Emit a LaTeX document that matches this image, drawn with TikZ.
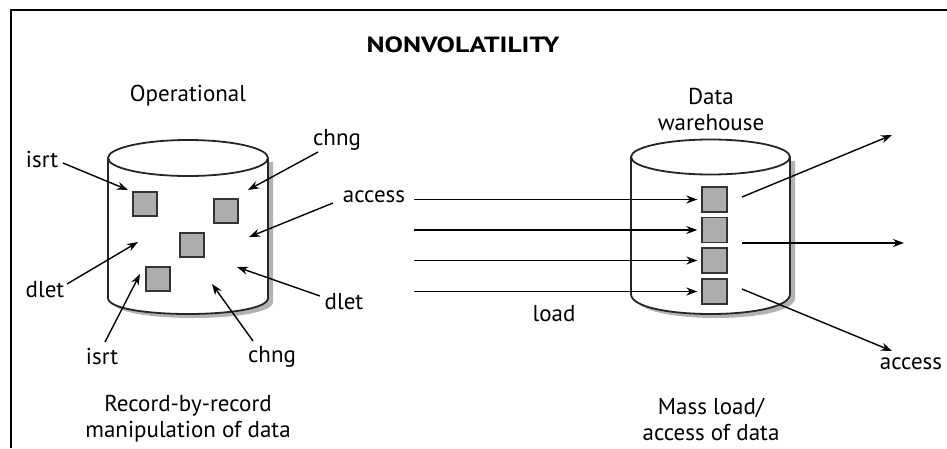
\documentclass[tikz,border=0pt]{standalone}
\usepackage{fontspec}
\setmainfont{PT Sans}
\newfontfamily\titlefont[FakeStretch=1.25]{PT Sans}
\usetikzlibrary{arrows.meta}
\tikzset{
  lbl/.style={inner sep=0pt, font=\fontsize{23}{26}\selectfont},
  rec/.style={draw=black!80, fill=black!32, line width=1.4pt, minimum size=24pt, inner sep=0pt},
  arr/.style={line width=1.4pt, -{Stealth[length=11pt,width=8pt]}},
  cyl/.style={line width=1.8pt, draw=black!85},
}
\newcommand{\cylbody}[5]{% cx, rx, top, bot, bulge
  (#1-#2,#3) -- (#1-#2,#4) .. controls (#1-#2,#4+#5*1.333) and (#1+#2,#4+#5*1.333) .. (#1+#2,#4) -- (#1+#2,#3)}
\begin{document}
\begin{tikzpicture}[x=1pt,y=-1pt]
\useasboundingbox (0,0) rectangle (947,448);
\fill[white] (0,0) rectangle (947,448);
\draw[line width=2.2pt] (11,448) -- (11,10) -- (947,10);

\node[inner sep=0pt, font=\titlefont\bfseries\fontsize{22}{26}\selectfont] (title) at (463,45) {NONVOLATILITY};

% left cylinder
\fill[black!30] \cylbody{193}{80}{162}{302}{16} -- cycle;
\filldraw[cyl, fill=white] \cylbody{188}{80}{158}{298}{16};
\draw[cyl] (188,158) ellipse [x radius=80, y radius=18];
\node[lbl] (op) at (188,96) {Operational};

\node[rec] (s1) at (145,204) {};
\node[rec] (s2) at (226,211) {};
\node[rec] (s3) at (192,245) {};
\node[rec] (s4) at (158,279) {};

\node[lbl] (isrtA) at (42,159) {isrt};
\node[lbl] (chngA) at (337,140) {chng};
\node[lbl] (acc) at (374,197) {access};
\node[lbl] (dletA) at (45,290) {dlet};
\node[lbl] (dletB) at (344,302) {dlet};
\node[lbl] (isrtB) at (102,356) {isrt};
\node[lbl] (chngB) at (272,357) {chng};
\node[lbl, align=center] (capL) at (188,419) {Record-by-record\\manipulation of data};

\coordinate (tA) at (128,190);
\coordinate (tB) at (248,190);
\coordinate (tC) at (249,237);
\coordinate (tD) at (138,242);
\coordinate (tE) at (140,274);
\coordinate (tF) at (212,284);
\coordinate (tG) at (237,267);

\draw[arr] (63,163) -- (tA);
\draw[arr] (318,152) -- (tB);
\draw[arr] (333,203) -- (tC);
\draw[arr] (67,284) -- (tD);
\draw[arr] (105,342) -- (tE);
\draw[arr] (253,341) -- (tF);
\draw[arr] (320,296) -- (tG);

% right cylinder
\fill[black!30] \cylbody{715.5}{79.5}{161}{298}{20} -- cycle;
\filldraw[cyl, fill=white] \cylbody{710.5}{79.5}{157}{294}{20};
\draw[cyl] (710.5,157) ellipse [x radius=79.5, y radius=17.5];
\node[lbl, align=center] (dw) at (711,109) {Data\\warehouse};

\node[rec, minimum size=25pt] (r1) at (714.5,199.5) {};
\node[rec, minimum size=25pt] (r2) at (714.5,230) {};
\node[rec, minimum size=25pt] (r3) at (714.5,260.5) {};
\node[rec, minimum size=25pt] (r4) at (714.5,291.5) {};

\coordinate (i1) at (414,199.5);
\coordinate (i2) at (414,230);
\coordinate (i3) at (414,260.5);
\coordinate (i4) at (414,291.5);
\draw[arr] (i1) -- ([xshift=-4pt]r1.west);
\draw[arr] (i2) -- ([xshift=-4pt]r2.west);
\draw[arr] (i3) -- ([xshift=-4pt]r3.west);
\draw[arr] (i4) -- ([xshift=-4pt]r4.west);
\node[lbl] (load) at (554,314) {load};

\coordinate (o1) at (742,197);
\coordinate (o2) at (742,243);
\coordinate (o3) at (742,289);
\coordinate (e1) at (892,135);
\coordinate (e2) at (904,243);
\coordinate (e3) at (892,351);
\draw[arr] (o1) -- (e1);
\draw[arr] (o2) -- (e2);
\draw[arr] (o3) -- (e3);
\node[lbl] (accR) at (911,364) {access};
\node[lbl, align=center] (capR) at (711,419) {Mass load/\\access of data};
\end{tikzpicture}
\end{document}
